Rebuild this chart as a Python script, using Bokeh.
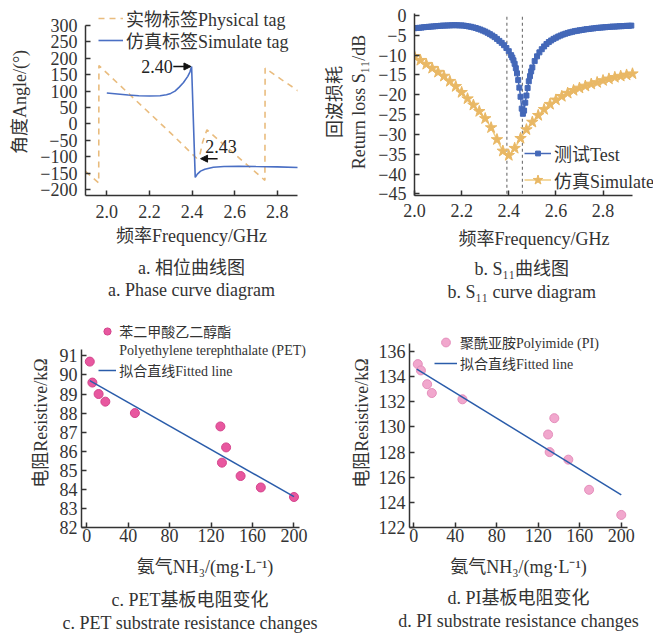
from bokeh.plotting import figure
from bokeh.models import (Legend, LegendItem, Title, FixedTicker, CustomJSTickFormatter,
                          Arrow, NormalHead, Label, Range1d, LinearAxis)
from bokeh.layouts import column, row
from bokeh.embed import file_html
from bokeh.resources import INLINE

SERIF = "'Liberation Serif', 'Noto Sans CJK SC', serif"
TXT = "#333333"

# ---------------- data: panel a (phase) ----------------
phys_x = [1.90, 1.962, 1.963, 2.10, 2.20, 2.30, 2.39, 2.42, 2.435, 2.45, 2.47, 2.55, 2.65, 2.742, 2.743, 2.82, 2.90]
phys_y = [-145, -180, 178, 94, 33, -28, -85, -104, -100, -55, -18, -64, -120, -172, 170, 135, 100]
sim_x = [2.00, 2.05, 2.10, 2.15, 2.20, 2.25, 2.28, 2.30, 2.32, 2.34, 2.36, 2.38, 2.39, 2.398,
         2.415, 2.425, 2.44, 2.46, 2.50, 2.55, 2.62, 2.70, 2.80, 2.90]
sim_y = [94, 91, 88, 86, 85, 86, 89, 93, 100, 112, 126, 145, 158, 175,
         -163, -153, -144, -138, -132, -130, -129, -130, -131, -133]
phase_yticks = [-200, -150, -100, -50, 0, 50, 100, 150, 200, 250, 300]
freq_ticks = [2.0, 2.2, 2.4, 2.6, 2.8]
ann_labels = ["2.40", "2.43"]
ann_x0 = [2.312, 2.52]
ann_x1 = [2.395, 2.44]
ann_y = [175, -106]
ann_tx = [2.31, 2.462]
ann_ty = [175, -70]

# ---------------- data: panel b (S11) ----------------
test_x = [2.00, 2.01, 2.02, 2.03, 2.04, 2.05, 2.06, 2.07, 2.08, 2.09,
          2.10, 2.11, 2.12, 2.13, 2.14, 2.15, 2.16, 2.17, 2.18, 2.19,
          2.20, 2.21, 2.22, 2.23, 2.24, 2.25, 2.26, 2.27, 2.28, 2.29,
          2.30, 2.31, 2.32, 2.33, 2.34, 2.35, 2.36, 2.37, 2.38, 2.39,
          2.40, 2.41, 2.415, 2.42, 2.425, 2.43, 2.435, 2.44, 2.445, 2.45,
          2.455, 2.46, 2.465, 2.47, 2.475, 2.48, 2.485, 2.49, 2.495, 2.50,
          2.51, 2.52, 2.53, 2.54, 2.55, 2.56, 2.57, 2.58, 2.59, 2.60,
          2.61, 2.62, 2.63, 2.64, 2.65, 2.66, 2.67, 2.68, 2.69, 2.70,
          2.71, 2.72, 2.73, 2.74, 2.75, 2.76, 2.77, 2.78, 2.79, 2.80,
          2.81, 2.82, 2.83, 2.84, 2.85, 2.86, 2.87, 2.88, 2.89, 2.90,
          2.91, 2.92]
test_y = [-3.2, -3.15, -3.1, -3.05, -2.95, -2.9, -2.85, -2.8, -2.75, -2.7,
          -2.65, -2.6, -2.55, -2.55, -2.5, -2.5, -2.45, -2.45, -2.45, -2.5,
          -2.5, -2.55, -2.65, -2.75, -2.85, -3.0, -3.15, -3.35, -3.55, -3.8,
          -4.05, -4.35, -4.7, -5.05, -5.45, -5.9, -6.4, -6.9, -7.5, -8.2,
          -9.0, -10.0, -10.6, -11.3, -12.2, -13.3, -14.6, -16.3, -18.2, -20.5,
          -23.5, -24.8, -24.0, -22.0, -20.2, -18.3, -16.6, -15.3, -14.1, -13.1,
          -11.5, -10.3, -9.3, -8.5, -7.8, -7.2, -6.7, -6.3, -5.9, -5.6,
          -5.3, -5.05, -4.8, -4.6, -4.4, -4.25, -4.1, -3.95, -3.85, -3.75,
          -3.65, -3.55, -3.45, -3.4, -3.3, -3.25, -3.15, -3.1, -3.05, -3.0,
          -2.95, -2.9, -2.85, -2.8, -2.8, -2.75, -2.7, -2.7, -2.65, -2.6,
          -2.6, -2.55]
simu_x = [2.000, 2.025, 2.050, 2.075, 2.100, 2.125, 2.150, 2.175, 2.200, 2.225,
          2.250, 2.275, 2.300, 2.325, 2.350, 2.375, 2.400, 2.425, 2.450, 2.475,
          2.500, 2.525, 2.550, 2.575, 2.600, 2.625, 2.650, 2.675, 2.700, 2.725,
          2.750, 2.775, 2.800, 2.825, 2.850, 2.875, 2.900, 2.925]
simu_y = [-10.3, -11.3, -12.3, -13.3, -14.3, -15.3, -16.6, -17.9, -19.4, -21.0,
          -22.6, -24.2, -26.0, -28.3, -31.3, -34.2, -35.3, -33.5, -31.0, -28.8,
          -26.9, -25.2, -23.7, -22.4, -21.3, -20.4, -19.6, -18.9, -18.3, -17.8,
          -17.3, -16.9, -16.4, -16.0, -15.6, -15.3, -15.0, -14.7]
s11_yticks = [-45, -40, -35, -30, -25, -20, -15, -10, -5, 0]
marker_lines = [2.392, 2.458]

# ---------------- data: panels c, d ----------------
nh3_ticks = [0, 40, 80, 120, 160, 200]
pet_x = [3, 5.5, 11.5, 18, 46.5, 129, 130.5, 134.5, 148.5, 168, 200]
pet_y = [90.7, 89.6, 89.0, 88.6, 88.0, 87.3, 85.4, 86.2, 84.7, 84.1, 83.6]
pet_fit_x = [3, 200]
pet_fit_y = [89.7, 83.62]
pet_yticks = [82, 83, 84, 85, 86, 87, 88, 89, 90, 91]
pi_x = [4, 7, 13, 17.5, 47, 129.5, 131, 135.5, 149, 169, 200]
pi_y = [135.0, 134.5, 133.4, 132.7, 132.2, 129.4, 128.0, 130.7, 127.4, 125.0, 123.0]
pi_fit_x = [3, 200]
pi_fit_y = [134.6, 124.6]
pi_yticks = [122, 124, 126, 128, 130, 132, 134, 136]

MINUS = CustomJSTickFormatter(code="return (tick < 0 ? '\\u2212' : '') + Math.abs(tick).toString();")
ONEDEC = CustomJSTickFormatter(code="return tick.toFixed(1);")


def make_fig(w, h, xr, yr, xb, yb, bl, br, bt, bb):
    p = figure(width=w, height=h, x_range=Range1d(*xr), y_range=Range1d(*yr),
               output_backend="svg", toolbar_location=None, title=None,
               min_border_left=bl, min_border_right=br, min_border_top=bt, min_border_bottom=bb)
    p.outline_line_color = None
    p.xgrid.visible = False
    p.ygrid.visible = False
    p.background_fill_color = "white"
    p.border_fill_color = "white"
    p.xaxis[0].bounds = xb
    p.yaxis[0].bounds = yb
    for ax in (p.xaxis[0], p.yaxis[0]):
        ax.axis_line_color = "#333333"
        ax.axis_line_width = 1.5
        ax.major_tick_in = 5
        ax.major_tick_out = 0
        ax.major_tick_line_color = "#333333"
        ax.major_tick_line_width = 1.5
        ax.minor_tick_line_color = None
        ax.major_label_text_font = SERIF
        ax.major_label_text_font_size = "18px"
        ax.major_label_text_color = TXT
        ax.axis_label_text_font = SERIF
        ax.axis_label_text_font_size = "18px"
        ax.axis_label_text_font_style = "normal"
        ax.axis_label_text_color = TXT
    return p


def set_standoffs(p, xt, xl, yt, yl):
    p.xaxis[0].major_label_standoff = xt
    p.xaxis[0].axis_label_standoff = xl
    p.yaxis[0].major_label_standoff = yt
    p.yaxis[0].axis_label_standoff = yl


def add_captions(p, t1, t2, s1, s2, align="center", o1=0, o2=0):
    for t, s, o in ((t1, s1, o1), (t2, s2, o2)):
        p.add_layout(Title(text=t, align=align, offset=o, text_font=SERIF, text_font_size="18px",
                           text_font_style="normal", text_color=TXT, standoff=s), "below")


def add_legend(p, label, renderers, loc, size, gw, gh, lh):
    lg = Legend(items=[LegendItem(label=label, renderers=renderers)], location=loc)
    lg.background_fill_alpha = 0
    lg.border_line_alpha = 0
    lg.label_text_font = SERIF
    lg.label_text_font_size = size
    lg.label_text_color = TXT
    lg.padding = 0
    lg.margin = 0
    lg.spacing = 0
    lg.glyph_width = gw
    lg.glyph_height = gh
    lg.label_height = lh
    lg.label_standoff = 3
    p.add_layout(lg)


# ---------------- panel a ----------------
pa = make_fig(321, 310, (1.9, 2.895), (-218.3, 351.8), (1.9, 2.895), (-218.3, 300), 85, 24, 8, 115)
r_phys = pa.line(phys_x, phys_y, line_color="#e9bc7e", line_width=1.6, line_dash="6 5")
r_sim = pa.line(sim_x, sim_y, line_color="#4a6fc4", line_width=1.6)
pa.xaxis[0].ticker = FixedTicker(ticks=freq_ticks)
pa.xaxis[0].formatter = ONEDEC
pa.yaxis[0].ticker = FixedTicker(ticks=phase_yticks)
pa.yaxis[0].formatter = MINUS
pa.xaxis[0].axis_label = "频率Frequency/GHz"
pa.yaxis[0].axis_label = "角度Angle/(°)"
set_standoffs(pa, 9, 5, 8, 7)
for i in range(2):
    pa.add_layout(Arrow(end=NormalHead(size=7, fill_color="#111111", line_color="#111111"),
                        x_start=ann_x0[i], y_start=ann_y[i], x_end=ann_x1[i], y_end=ann_y[i],
                        line_color="#111111", line_width=1.5))
pa.add_layout(Label(x=ann_tx[0], y=ann_ty[0], text=ann_labels[0], text_align="right",
                    text_baseline="middle", text_font=SERIF, text_font_size="18px", text_color="#222222"))
pa.add_layout(Label(x=ann_tx[1], y=ann_ty[1], text=ann_labels[1], text_align="left",
                    text_baseline="middle", text_font=SERIF, text_font_size="18px", text_color="#222222"))
add_legend(pa, "实物标签Physical tag", [r_phys], (13, 164), "18px", 25, 22, 22)
add_legend(pa, "仿真标签Simulate tag", [r_sim], (13, 142), "18px", 25, 22, 22)
add_captions(pa, "a. 相位曲线图", "a. Phase curve diagram", 14, -14)

# ---------------- panel b ----------------
pb = make_fig(334, 310, (2.0, 3.0142), (-45.42, 1.77), (2.0, 2.925), (-45.42, 0.6), 89, 2, 8, 115)
pb.segment(x0=marker_lines, y0=[s11_yticks[0]] * 2, x1=marker_lines, y1=[s11_yticks[-1]] * 2,
           line_color="#777777", line_dash="3 3", line_width=1.2)
r_tl = pb.line(test_x, test_y, line_color="#4468b8", line_width=1.5)
r_ts = pb.scatter(test_x, test_y, marker="square", size=5, fill_color="#4468b8", line_color="#4468b8")
r_sl = pb.line(simu_x, simu_y, line_color="#f0cc80", line_width=1.5)
r_ss = pb.scatter(simu_x, simu_y, marker="star", size=12, fill_color="#e9b865", line_color="#e9b865")
pb.xaxis[0].ticker = FixedTicker(ticks=freq_ticks)
pb.xaxis[0].formatter = ONEDEC
pb.yaxis[0].ticker = FixedTicker(ticks=s11_yticks)
pb.yaxis[0].formatter = MINUS
pb.xaxis[0].axis_label = "频率Frequency/GHz"
pb.yaxis[0].axis_label = "Return loss S₁₁/dB"
set_standoffs(pb, 8, 9, 8, 6)
extra = LinearAxis(axis_label="回波损耗", ticker=FixedTicker(ticks=[]),
                   axis_line_color=None, major_tick_line_color=None, minor_tick_line_color=None,
                   major_tick_in=0, major_tick_out=0, major_label_standoff=0,
                   axis_label_standoff=2, axis_label_text_font=SERIF,
                   axis_label_text_font_size="18px", axis_label_text_font_style="normal",
                   axis_label_text_color=TXT)
pb.add_layout(extra, "left")
add_legend(pb, "测试Test", [r_tl, r_ts], (110, 29), "18px", 27, 12, 22)
add_legend(pb, "仿真Simulate", [r_sl, r_ss], (110, 2.5), "18px", 27, 25, 25)
add_captions(pb, "b. S₁₁曲线图", "b. S₁₁ curve diagram", 11, -9, "left", 60, 33)

# ---------------- panel c ----------------
pc = make_fig(330, 323, (-5, 233.3), (82, 92.96), (-5, 205), (82, 91.35), 81, 2, 8, 106)
r_pet = pc.scatter(pet_x, pet_y, size=9, fill_color="#e8579f", line_color="#d4448c")
r_pfit = pc.line(pet_fit_x, pet_fit_y, line_color="#2a5caa", line_width=1.5)
r_dummy_c = pc.scatter(x=[], y=[], size=1, fill_alpha=0, line_alpha=0)
pc.xaxis[0].ticker = FixedTicker(ticks=nh3_ticks)
pc.yaxis[0].ticker = FixedTicker(ticks=pet_yticks)
pc.xaxis[0].axis_label = "氨气NH₃/(mg·L⁻¹)"
pc.yaxis[0].axis_label = "电阻Resistive/kΩ"
set_standoffs(pc, 1, 12, 4, 6)
add_legend(pc, "苯二甲酸乙二醇酯", [r_pet], (17.3, 185), "14px", 18, 22, 22)
add_legend(pc, "Polyethylene terephthalate (PET)", [r_dummy_c], (17.3, 165), "14px", 18, 22, 22)
add_legend(pc, "拟合直线Fitted line", [r_pfit], (17.3, 146), "14px", 18, 22, 22)
add_captions(pc, "c. PET基板电阻变化", "c. PET substrate resistance changes", 16, -13, "left", 30, -19)

# ---------------- panel d ----------------
pd_ = make_fig(325, 323, (-4, 206), (122, 138.63), (-4, 206), (122, 136.66), 79, 28, 8, 106)
r_pi = pd_.scatter(pi_x, pi_y, size=9, fill_color="#f1a7cd", line_color="#e58fbc")
r_ifit = pd_.line(pi_fit_x, pi_fit_y, line_color="#2a5caa", line_width=1.5)
pd_.xaxis[0].ticker = FixedTicker(ticks=nh3_ticks)
pd_.yaxis[0].ticker = FixedTicker(ticks=pi_yticks)
pd_.xaxis[0].axis_label = "氨气NH₃/(mg·L⁻¹)"
pd_.yaxis[0].axis_label = "电阻Resistive/kΩ"
set_standoffs(pd_, 1, 12, 4, 4)
add_legend(pd_, "聚酰亚胺Polyimide (PI)", [r_pi], (25, 174.3), "14px", 23, 22, 22)
add_legend(pd_, "拟合直线Fitted line", [r_ifit], (25, 153.3), "14px", 23, 22, 22)
add_captions(pd_, "d. PI基板电阻变化", "d. PI substrate resistance changes", 12, -9)

layout = column(row(pa, pb), row(pc, pd_))
open("out.html", "w").write(file_html(layout, INLINE))
